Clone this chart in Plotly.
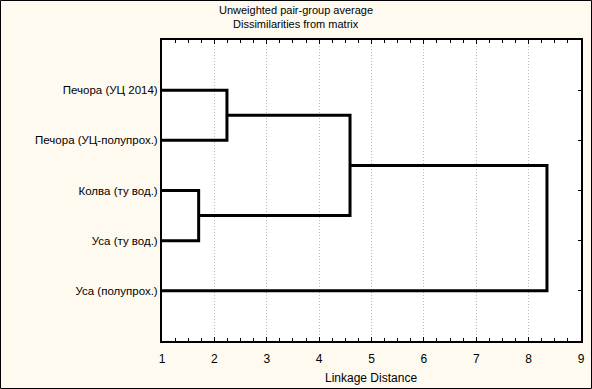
import plotly.graph_objects as go

# ---- data ----
leaf_labels = ["Печора (УЦ 2014)", "Печора (УЦ-полупрох.)", "Колва (ту вод.)",
               "Уса (ту вод.)", "Уса (полупрох.)"]
# merges: (left child, right child, linkage distance); children < 5 are leaves,
# children >= 5 are clusters created by earlier merges (5 + merge index)
merge_left = [0, 2, 5, 7]
merge_right = [1, 3, 6, 4]
merge_height = [2.24, 1.70, 4.59, 8.35]
x_ticks = [1, 2, 3, 4, 5, 6, 7, 8, 9]
title_lines = ["Unweighted pair-group average", "Dissimilarities from matrix"]
x_title = "Linkage Distance"

# ---- build dendrogram segments ----
n = len(leaf_labels)
pos = {i: (1.0, i + 1) for i in range(n)}  # node -> (x, y)
xs, ys = [], []
for k, (a, b, h) in enumerate(zip(merge_left, merge_right, merge_height)):
    xa, ya = pos[a]
    xb, yb = pos[b]
    xs += [xa, h, h, xb, None]
    ys += [ya, ya, yb, yb, None]
    pos[n + k] = (h, (ya + yb) / 2)

fig = go.Figure()
fig.add_trace(go.Scatter(x=xs, y=ys, mode="lines",
                         line=dict(color="black", width=3),
                         hoverinfo="skip", showlegend=False))

W, H = 592, 389
ml, mr, mt, mb = 162, 11, 40, 48
pw, ph = W - ml - mr, H - mt - mb

def py(pix):  # pixel y from top -> paper y
    return 1 - (pix - mt) / ph

def px(pix):  # pixel x from left -> paper x
    return (pix - ml) / pw

annotations = []
for i, t in enumerate(title_lines):
    annotations.append(dict(text=t, xref="paper", yref="paper",
                            x=px(295.5), y=py(10 + 14 * i),
                            xanchor="center", yanchor="middle", showarrow=False,
                            font=dict(size=11, color="black")))
annotations.append(dict(text=x_title, xref="paper", yref="paper",
                        x=px(371), y=py(378), xanchor="center", yanchor="middle",
                        showarrow=False, font=dict(size=12, color="black")))

fig.update_layout(
    width=W, height=H,
    margin=dict(l=ml, r=mr, t=mt, b=mb, pad=0),
    paper_bgcolor="#fffaf0",
    plot_bgcolor="white",
    font=dict(family="Liberation Sans, Arial, sans-serif", size=12, color="black"),
    annotations=annotations,
    xaxis=dict(range=[1, 9], tickvals=x_ticks, ticktext=[str(v) for v in x_ticks],
               showgrid=True, gridcolor="#bdbdbd", griddash="1px,2px", gridwidth=1,
               ticks="inside", ticklen=4, tickcolor="black",
               minor=dict(dtick=0.25, ticks="inside", ticklen=3, tickcolor="black", showgrid=False),
               showline=True, linecolor="black", linewidth=2, mirror="ticks",
               zeroline=False, ticklabelstandoff=6, automargin=False),
    yaxis=dict(range=[6, 0], tickvals=list(range(1, n + 1)), ticktext=leaf_labels,
               tickfont=dict(size=11.5),
               showgrid=False, ticks="inside", ticklen=3, tickcolor="black",
               showline=True, linecolor="black", linewidth=2, mirror="ticks",
               zeroline=False, ticklabelstandoff=0, automargin=False),
    shapes=[dict(type="rect", xref="paper", yref="paper",
                 x0=-(ml - 0.5) / pw, x1=1 + (mr - 0.5) / pw,
                 y0=-(mb - 0.5) / ph, y1=1 + (mt - 0.5) / ph,
                 line=dict(color="black", width=1), layer="below")],
)

fig.write_html("out.html", config={"displayModeBar": False},
               post_script="document.body.style.margin='0';document.body.style.overflow='hidden';")
